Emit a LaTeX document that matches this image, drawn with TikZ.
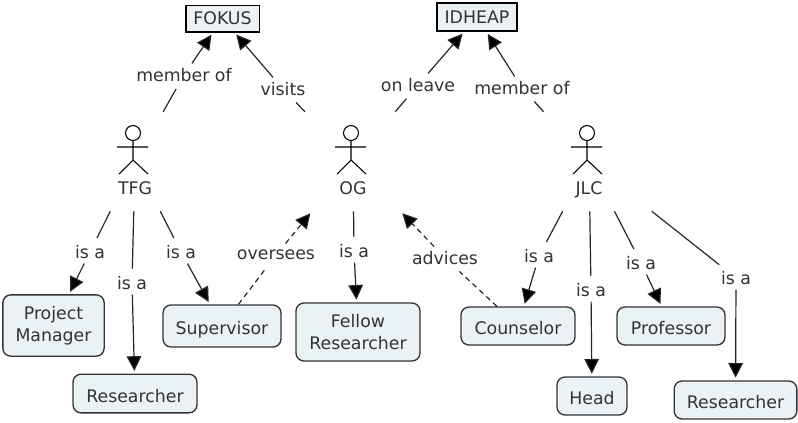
\documentclass[tikz,border=0pt]{standalone}
\usepackage{fontspec}
\setmainfont{DejaVu Sans}
\usepackage{tikz}
\usetikzlibrary{arrows.meta}
\definecolor{inkgray}{HTML}{333333}
\definecolor{boxfill}{HTML}{EBF2F5}
\tikzstyle{place} = [draw=black, fill=boxfill, line width=1pt, inner sep=0pt, text=inkgray]
\tikzstyle{role} = [draw=inkgray, fill=boxfill, line width=1pt, rounded corners=6pt, inner sep=0pt, align=center, text=inkgray]
\tikzstyle{oneline} = [role, text height=13pt, text depth=0pt]
\tikzstyle{phrase} = [inner sep=0pt, minimum height=17pt, text=inkgray]
\tikzstyle{link} = [line width=.9pt, draw=black!85, shorten >=2pt]
\tikzstyle{dashlink} = [link, dash pattern=on 4pt off 3pt]
\tikzstyle{actor} = [inner sep=0pt, text=inkgray, minimum width=105pt,
  text height=61.5pt, text depth=12.75pt,
  path picture={
    \draw[line width=.8pt, black]
      ([shift={(-2,-28.5)}]path picture bounding box.center) circle (5.6pt)
      ([shift={(-2,-21)}]path picture bounding box.center) -- ([shift={(-2,-1.5)}]path picture bounding box.center)
      ([shift={(-18,-14.5)}]path picture bounding box.center) -- ([shift={(13,-14.5)}]path picture bounding box.center)
      ([shift={(-16,12.5)}]path picture bounding box.center) -- ([shift={(-2,-1.5)}]path picture bounding box.center)
        -- ([shift={(13,12.5)}]path picture bounding box.center);
  }]

\begin{document}
\begin{tikzpicture}[ x=.75pt, y=-.75pt, >={Triangle[length=11pt,width=11pt,fill=black]},
  every node/.style={font=\fontsize{13}{16.5}\selectfont} ]
\useasboundingbox (0,0) rectangle (798,422);

% places
\node (fokus)  [place, minimum width=55pt, minimum height=20pt] at (222.5,18.5) {FOKUS};
\node (idheap) [place, minimum width=60pt, minimum height=21pt] at (477,17)     {IDHEAP};

% actors
\node (tfg) [actor] at (135,161.5) {TFG};
\node (og)  [actor] at (353,161.5) {OG};
\node (jlc) [actor] at (589,161.5) {JLC};

% roles
\node (pm)      [role, minimum width=76pt, minimum height=46pt]        at (53.5,325.5) {Project\\Manager};
\node (resone)  [oneline, minimum width=93pt, minimum height=29pt]     at (135,393.5)  {Researcher};
\node (sup)     [oneline, minimum width=88.5pt, minimum height=31.5pt] at (222,326)    {Supervisor};
\node (fellow)  [role, minimum width=93pt, minimum height=43.5pt]      at (358,332)    {Fellow\\Researcher};
\node (couns)   [oneline, minimum width=85.5pt, minimum height=28.5pt] at (518,326)    {Counselor};
\node (prof)    [oneline, minimum width=81pt, minimum height=28.5pt]   at (671,326)    {Professor};
\node (head)    [oneline, minimum width=52.5pt, minimum height=28.5pt] at (592,396)    {Head};
\node (restwo)  [oneline, minimum width=92pt, minimum height=28.5pt]   at (735.5,400)  {Researcher};

% linking phrases
\node (memf) [phrase] at (184,75)  {member of};
\node (vis)  [phrase] at (283,89)  {visits};
\node (leav) [phrase] at (418,85)  {on leave};
\node (memi) [phrase] at (522,88)  {member of};
\node (isaa) [phrase] at (90,252)  {is a};
\node (isab) [phrase] at (132,283) {is a};
\node (isac) [phrase] at (181,252) {is a};
\node (over) [phrase] at (276,255) {oversees};
\node (isad) [phrase] at (354,251) {is a};
\node (adv)  [phrase] at (445,258) {advices};
\node (isae) [phrase] at (539,256) {is a};
\node (isaf) [phrase] at (591,290) {is a};
\node (isag) [phrase] at (641,263) {is a};
\node (isah) [phrase] at (736,278) {is a};

% edges
\path (tfg)  edge[link,-]  (memf);
\path (memf) edge[link,->] (fokus);
\path (og)   edge[link,-]  (vis);
\path (vis)  edge[link,->] (fokus);
\path (og)   edge[link,-]  (leav);
\path (leav) edge[link,->] (idheap);
\path (jlc)  edge[link,-]  (memi);
\path (memi) edge[link,->] (idheap);

\path (tfg)  edge[link,-]  (isaa);
\path (isaa) edge[link,->] (pm);
\path (tfg)  edge[link,-]  (isab);
\path (isab) edge[link,->] (resone);
\path (tfg)  edge[link,-]  (isac);
\path (isac) edge[link,->] (sup);
\path (og)   edge[link,-]  (isad);
\path (isad) edge[link,->] (fellow);
\path (jlc)  edge[link,-]  (isae);
\path (isae) edge[link,->] (couns);
\path (jlc)  edge[link,-]  (isaf);
\path (isaf) edge[link,->] (head);
\path (jlc)  edge[link,-]  (isag);
\path (isag) edge[link,->] (prof);
\path (jlc)  edge[link,-]  (isah);
\path (isah) edge[link,->] (restwo);

% dashed edges
\path (sup)   edge[dashlink,-]  (over);
\path (over)  edge[dashlink,->] (og);
\path (couns) edge[dashlink,-]  (adv);
\path (adv)   edge[dashlink,->] (og);

\end{tikzpicture}
\end{document}
